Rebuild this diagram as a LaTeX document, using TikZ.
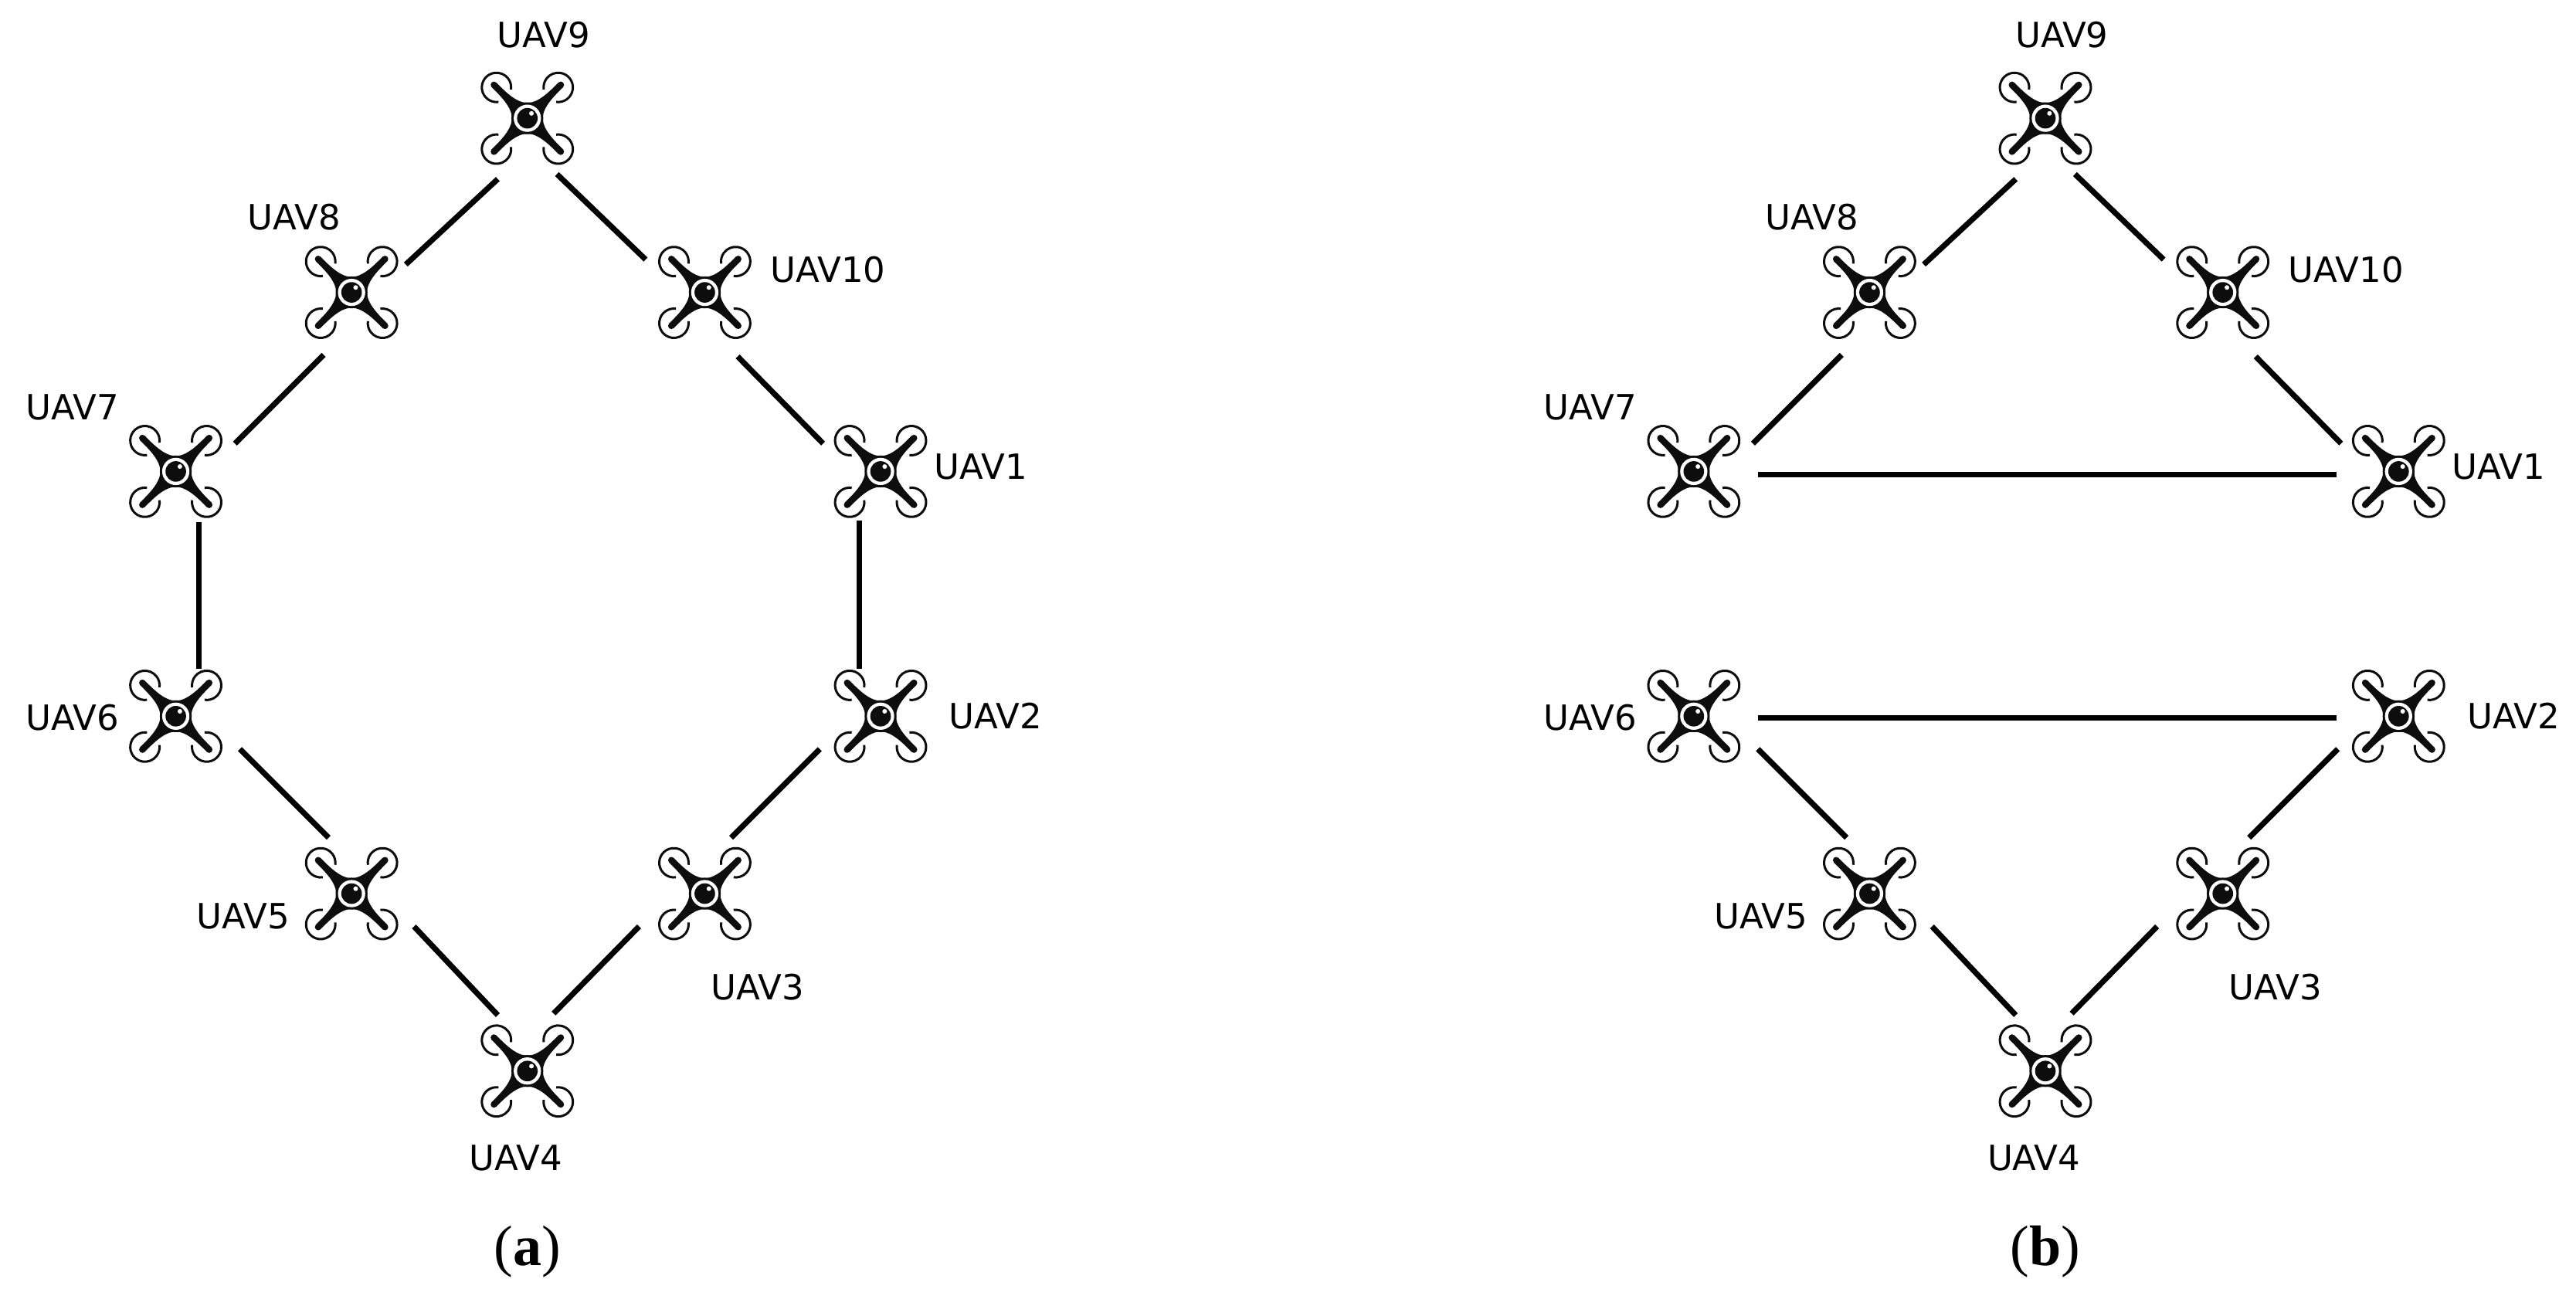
\documentclass[tikz,border=0pt]{standalone}
\usepackage{fontspec}
\setmainfont{DejaVu Sans}
\newfontfamily\capfont{Liberation Serif}
\tikzset{
  lab/.style={font=\fontsize{4.5}{5}\selectfont, inner sep=0pt},
  capt/.style={font=\capfont\fontsize{7.4}{8}\selectfont, inner sep=0pt},
  dronenode/.style={circle, minimum size=2pt, inner sep=0pt},
  link/.style={line width=0.72pt, black},
  drone/.pic={
    \begin{scope}[x=0.0333pt,y=-0.0333pt]
      \foreach \a/\b in {1/1,-1/1,1/-1,-1/-1}{
        \begin{scope}[cm={\a,0,0,\b,(0,0)}]
          \draw[line width=0.3pt,black!95] (120,120) ++(262:57) arc[start angle=262,end angle=548,radius=57];
          \fill[black!95] (130,130) circle (12.7);
        \end{scope}
      }
      \fill[black!95] (-139,-121) -- (-121,-139)
        .. controls (-90,-108) and (-45,-60) .. (0,-60)
        .. controls (45,-60) and (90,-108) .. (121,-139)
        -- (139,-121)
        .. controls (108,-90) and (60,-45) .. (60,0)
        .. controls (60,45) and (108,90) .. (139,121)
        -- (121,139)
        .. controls (90,108) and (45,60) .. (0,60)
        .. controls (-45,60) and (-90,108) .. (-121,139)
        -- (-139,121)
        .. controls (-108,90) and (-60,45) .. (-60,0)
        .. controls (-60,-45) and (-108,-90) .. (-139,-121) -- cycle;
      \fill[black!95] (0,0) circle (62);
      \fill[white] (0,0) circle (53);
      \fill[black!95] (0,0) circle (40);
      \fill[white] (16,-19) circle (9);
    \end{scope}
  }
}
\begin{document}
\begin{tikzpicture}[x=0.2127pt,y=-0.2127pt]
\useasboundingbox[fill=white] (0,0) rectangle (1568,795);
\foreach \p/\dx in {a/0,b/924}{
  \begin{scope}[shift={(\dx,0)}]
    \node[dronenode] (\p9) at (321,72) {};
    \node[dronenode] (\p8) at (214,178) {};
    \node[dronenode] (\p10) at (429,178) {};
    \node[dronenode] (\p7) at (107,287) {};
    \node[dronenode] (\p1) at (536,287) {};
    \node[dronenode] (\p6) at (107,436) {};
    \node[dronenode] (\p2) at (536,436) {};
    \node[dronenode] (\p5) at (214,544) {};
    \node[dronenode] (\p3) at (429,544) {};
    \node[dronenode] (\p4) at (321,652) {};
    \foreach \n in {1,...,10}{ \pic at (\p\n) {drone}; }
    \node[lab] (l\p9) at (331,21) {UAV9};
    \node[lab] (l\p8) at (179,132) {UAV8};
    \node[lab] (l\p10) at (504,164) {UAV10};
    \node[lab] (l\p7) at (44,248) {UAV7};
    \node[lab] (l\p1) at (597,284) {UAV1};
    \node[lab] (l\p6) at (44,437) {UAV6};
    \node[lab] (l\p2) at (606,436) {UAV2};
    \node[lab] (l\p5) at (148,558) {UAV5};
    \node[lab] (l\p3) at (461,601) {UAV3};
    \node[lab] (l\p4) at (314,705) {UAV4};
    \draw[link] ([shift={(-18,37)}]\p9.center) -- ([shift={(33,-17)}]\p8.center);
    \draw[link] ([shift={(18,34)}]\p9.center) -- ([shift={(-36,-20)}]\p10.center);
    \draw[link] ([shift={(-17,38)}]\p8.center) -- ([shift={(36,-17)}]\p7.center);
    \draw[link] ([shift={(20,39)}]\p10.center) -- ([shift={(-35,-17)}]\p1.center);
    \draw[link] ([shift={(39,20)}]\p6.center) -- ([shift={(-14,-34)}]\p5.center);
    \draw[link] ([shift={(-37,20)}]\p2.center) -- ([shift={(16,-34)}]\p3.center);
    \draw[link] ([shift={(38,20)}]\p5.center) -- ([shift={(-18,-34)}]\p4.center);
    \draw[link] ([shift={(-40,20)}]\p3.center) -- ([shift={(16,-35)}]\p4.center);
  \end{scope}
}
\draw[link] ([shift={(14,31)}]a7.center) -- ([shift={(14,-29)}]a6.center);
\draw[link] ([shift={(-13,30)}]a1.center) -- ([shift={(-13,-29)}]a2.center);
\draw[link] ([shift={(39,2)}]b7.center) -- ([shift={(-38,2)}]b1.center);
\draw[link] ([shift={(39,1)}]b6.center) -- ([shift={(-38,1)}]b2.center);
\node[capt] (capa) at (321,762) {(\textbf{a})};
\node[capt] (capb) at (1245,762) {(\textbf{b})};
\end{tikzpicture}
\end{document}
